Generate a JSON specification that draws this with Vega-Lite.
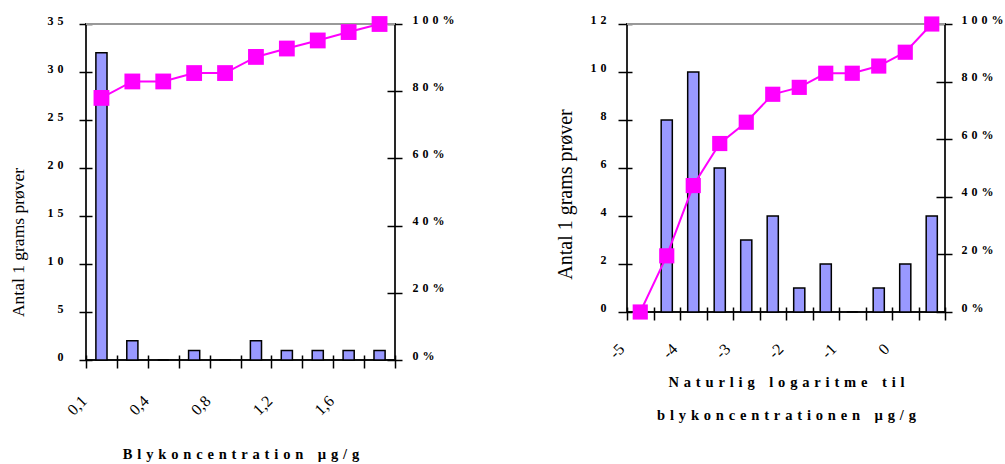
{
  "$schema": "https://vega.github.io/schema/vega-lite/v6.json",
  "padding": {"left": 9, "top": 12, "right": 0, "bottom": 0},
  "background": "white",
  "config": {
    "view": {"stroke": "#111111", "strokeWidth": 1.8},
    "axis": {
      "domain": false, "tickColor": "black", "tickWidth": 1.5,
      "labelColor": "black", "titleColor": "black",
      "labelFont": "Liberation Serif", "titleFont": "Liberation Serif",
      "grid": false, "labelFontWeight": "bold", "labelFontSize": 12
    }
  },
  "datasets": {
    "left": [
      {"bin": "0,1", "n": 32, "pct": 0.780},
      {"bin": "0,2", "n": 2, "pct": 0.829},
      {"bin": "0,4", "n": 0, "pct": 0.829},
      {"bin": "0,6", "n": 1, "pct": 0.854},
      {"bin": "0,8", "n": 0, "pct": 0.854},
      {"bin": "1,0", "n": 2, "pct": 0.902},
      {"bin": "1,2", "n": 1, "pct": 0.927},
      {"bin": "1,4", "n": 1, "pct": 0.951},
      {"bin": "1,6", "n": 1, "pct": 0.976},
      {"bin": "1,8", "n": 1, "pct": 1.0}
    ],
    "right": [
      {"bin": "-5", "n": 0, "pct": 0.0},
      {"bin": "-4,5", "n": 8, "pct": 0.195},
      {"bin": "-4", "n": 10, "pct": 0.439},
      {"bin": "-3,5", "n": 6, "pct": 0.585},
      {"bin": "-3", "n": 3, "pct": 0.659},
      {"bin": "-2,5", "n": 4, "pct": 0.756},
      {"bin": "-2", "n": 1, "pct": 0.780},
      {"bin": "-1,5", "n": 2, "pct": 0.829},
      {"bin": "-1", "n": 0, "pct": 0.829},
      {"bin": "-0,5", "n": 1, "pct": 0.854},
      {"bin": "0", "n": 2, "pct": 0.902},
      {"bin": "0,5", "n": 4, "pct": 1.0}
    ]
  },
  "hconcat": [
    {
      "width": 309, "height": 336,
      "data": {"name": "left"},
      "layer": [
        {
          "layer": [
            {
              "mark": {"type": "bar", "width": {"band": 0.36}, "fill": "#9999ff", "stroke": "black", "strokeWidth": 1.5},
              "encoding": {
                "x": {"field": "bin", "type": "ordinal",
                  "scale": {"domain": ["0,1", "0,2", "0,4", "0,6", "0,8", "1,0", "1,2", "1,4", "1,6", "1,8"], "paddingInner": 0, "paddingOuter": 0},
                  "axis": {"orient": "bottom", "offset": -5, "tickSize": 13, "bandPosition": 0, "tickBand": "extent",
                    "labelAngle": -45, "labelAlign": "right", "labelBaseline": "middle", "labelPadding": 30, "labelOffset": -17.5,
                    "labelFontSize": 16, "labelFontWeight": "normal",
                    "labelExpr": "(datum.value == '0,1' || datum.value == '0,4' || datum.value == '0,8' || datum.value == '1,2' || datum.value == '1,6') ? datum.value : ''",
                    "title": "B\u2004l\u2004y\u2004k\u2004o\u2004n\u2004c\u2004e\u2004n\u2004t\u2004r\u2004a\u2004t\u2004i\u2004o\u2004n\u2004\u2004\u2004µ\u2004g\u2004/\u2004g",
                    "titleFontSize": 14.5, "titleFontWeight": "bold", "titlePadding": 30}},
                "y": {"field": "n", "type": "quantitative", "scale": {"domain": [0, 35], "nice": false},
                  "axis": {"orient": "left", "offset": -6, "values": [0, 5, 10, 15, 20, 25, 30, 35], "tickSize": 13, "labelPadding": 16, "labelOffset": -4,
                    "labelExpr": "datum.value == 35 ? '3\u20045' : datum.value == 30 ? '3\u20040' : datum.value == 25 ? '2\u20045' : datum.value == 20 ? '2\u20040' : datum.value == 15 ? '1\u20045' : datum.value == 10 ? '1\u20040' : datum.label",
                    "title": "Antal 1 grams prøver", "titleFontSize": 17.5, "titleFontWeight": "normal", "titlePadding": 19, "titleY": 218}}
              }
            },
            {
              "mark": {"type": "rule", "color": "#999999", "strokeWidth": 2},
              "encoding": {"y": {"datum": 35, "type": "quantitative", "axis": null}}
            }
          ],
          "resolve": {"axis": {"x": "independent", "y": "independent"}}
        },
        {
          "mark": {"type": "line", "color": "#ff00ff", "strokeWidth": 2,
            "point": {"shape": "square", "size": 250, "filled": true, "color": "#ff00ff", "opacity": 1}},
          "encoding": {
            "x": {"field": "bin", "type": "ordinal", "axis": null},
            "y": {"field": "pct", "type": "quantitative", "scale": {"domain": [0, 1], "nice": false},
              "axis": {"orient": "right", "offset": -8, "values": [0, 0.2, 0.4, 0.6, 0.8, 1], "tickSize": 15, "labelPadding": 10, "labelOffset": -5,
                "labelExpr": "datum.value == 1 ? '1\u20040\u20040\u2004%' : datum.value == 0.8 ? '8\u20040\u2004%' : datum.value == 0.6 ? '6\u20040\u2004%' : datum.value == 0.4 ? '4\u20040\u2004%' : datum.value == 0.2 ? '2\u20040\u2004%' : '0\u2004%'", "title": null}}
          }
        }
      ],
      "resolve": {"scale": {"y": "independent"}, "axis": {"x": "independent", "y": "independent"}}
    },
    {
      "width": 318, "height": 288,
      "data": {"name": "right"},
      "layer": [
        {
          "layer": [
            {
              "mark": {"type": "bar", "width": {"band": 0.42}, "fill": "#9999ff", "stroke": "black", "strokeWidth": 1.5},
              "encoding": {
                "x": {"field": "bin", "type": "ordinal",
                  "scale": {"domain": ["-5", "-4,5", "-4", "-3,5", "-3", "-2,5", "-2", "-1,5", "-1", "-0,5", "0", "0,5"], "paddingInner": 0, "paddingOuter": 0},
                  "axis": {"orient": "bottom", "offset": -5, "tickSize": 13, "bandPosition": 0, "tickBand": "extent",
                    "labelAngle": -45, "labelAlign": "right", "labelBaseline": "middle", "labelPadding": 26, "labelOffset": -19,
                    "labelFontSize": 16, "labelFontWeight": "normal",
                    "labelExpr": "(datum.value == '-5' || datum.value == '-4' || datum.value == '-3' || datum.value == '-2' || datum.value == '-1' || datum.value == '0') ? datum.value : ''",
                    "title": ["N\u2004a\u2004t\u2004u\u2004r\u2004l\u2004i\u2004g\u2004\u2004\u2004l\u2004o\u2004g\u2004a\u2004r\u2004i\u2004t\u2004m\u2004e\u2004\u2004\u2004t\u2004i\u2004l", "b\u2004l\u2004y\u2004k\u2004o\u2004n\u2004c\u2004e\u2004n\u2004t\u2004r\u2004a\u2004t\u2004i\u2004o\u2004n\u2004e\u2004n\u2004\u2004\u2004µ\u2004g\u2004/\u2004g"],
                    "titleFontSize": 14.5, "titleFontWeight": "bold", "titlePadding": 14, "titleLineHeight": 33}},
                "y": {"field": "n", "type": "quantitative", "scale": {"domain": [0, 12], "nice": false},
                  "axis": {"orient": "left", "offset": -5, "values": [0, 2, 4, 6, 8, 10, 12], "tickSize": 14, "labelPadding": 12, "labelOffset": -5,
                    "labelExpr": "datum.value == 12 ? '1\u20042' : datum.value == 10 ? '1\u20040' : datum.label",
                    "title": "Antal 1 grams prøver", "titleFontSize": 20, "titleFontWeight": "normal", "titlePadding": 14, "titleY": 170}}
              }
            },
            {
              "mark": {"type": "rule", "color": "#999999", "strokeWidth": 2},
              "encoding": {"y": {"datum": 12, "type": "quantitative", "axis": null}}
            }
          ],
          "resolve": {"axis": {"x": "independent", "y": "independent"}}
        },
        {
          "mark": {"type": "line", "color": "#ff00ff", "strokeWidth": 2,
            "point": {"shape": "square", "size": 230, "filled": true, "color": "#ff00ff", "opacity": 1}},
          "encoding": {
            "x": {"field": "bin", "type": "ordinal", "axis": null},
            "y": {"field": "pct", "type": "quantitative", "scale": {"domain": [0, 1], "nice": false},
              "axis": {"orient": "right", "offset": -9, "values": [0, 0.2, 0.4, 0.6, 0.8, 1], "tickSize": 16, "labelPadding": 9, "labelOffset": -5,
                "labelExpr": "datum.value == 1 ? '1\u20040\u20040\u2004%' : datum.value == 0.8 ? '8\u20040\u2004%' : datum.value == 0.6 ? '6\u20040\u2004%' : datum.value == 0.4 ? '4\u20040\u2004%' : datum.value == 0.2 ? '2\u20040\u2004%' : '0\u2004%'", "title": null}}
          }
        }
      ],
      "resolve": {"scale": {"y": "independent"}, "axis": {"x": "independent", "y": "independent"}}
    }
  ],
  "spacing": 100
}
